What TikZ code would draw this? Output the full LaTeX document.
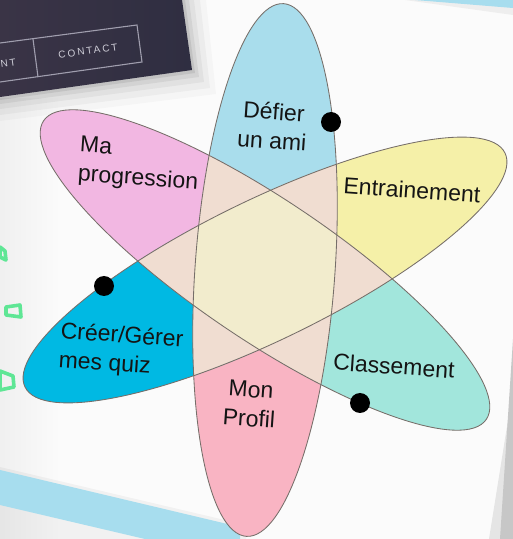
\documentclass[tikz,border=0pt]{standalone}
\usepackage{fontspec}
\setmainfont{Liberation Sans}
\newfontfamily\cardfont[LetterSpace=20]{Liberation Sans}
\definecolor{pagebg}{HTML}{FBFBFB}
\definecolor{cardc}{HTML}{2F2E41}
\definecolor{cardtl}{HTML}{3A3446}
\definecolor{cardline}{HTML}{A09EAE}
\definecolor{cardtext}{HTML}{CFCED8}
\definecolor{barblue}{HTML}{A7DDEE}
\definecolor{mint}{HTML}{5FE695}
\definecolor{defier}{HTML}{A9DDEC}
\definecolor{profil}{HTML}{F9B4C3}
\definecolor{progression}{HTML}{F2B7E2}
\definecolor{classement}{HTML}{A2E6DC}
\definecolor{entrain}{HTML}{F5F0A8}
\definecolor{creer}{HTML}{00B9E3}
\definecolor{peach}{HTML}{F0DDD1}
\definecolor{centre}{HTML}{F2ECCD}
\definecolor{outl}{HTML}{766E69}
\begin{document}
\begin{tikzpicture}[x=1pt,y=1pt,
  eA/.style={shift={(265,269)},rotate=86},
  eB/.style={shift={(265,269)},rotate=-34},
  eC/.style={shift={(265,269)},rotate=26},
  outline/.style={draw=outl,line width=0.85pt},
  lbl/.style={font=\fontsize{23}{29}\selectfont,text=black!92,inner sep=0pt,rotate=-4},
  dot/.style={circle,fill=black,minimum size=20pt,inner sep=0pt},
  cardtxt/.style={font=\cardfont\fontsize{10}{11}\selectfont,text=cardtext,inner sep=0pt,rotate=8},
  greenmark/.style={draw=mint,line width=3.6pt,line join=round}]
\useasboundingbox (0,0) rectangle (513,539);
% page
\fill[pagebg] (0,0) rectangle (513,539);
\shade[left color=black!6,right color=pagebg] (0,0) rectangle (60,440);
% right edge grey
\fill[black!10] (513,150) -- (513,0) -- (489,0) -- cycle;
\fill[black!22] (513,200) -- (513,0) -- (500,0) -- cycle;
% top-right blue strip
\fill[black,opacity=0.05] (405,539) -- (513,539) -- (513,524) -- cycle;
\fill[barblue] (415,539) -- (513,539) -- (513,531) -- cycle;
% bottom-left blue bar
\fill[black,opacity=0.04] (0,72) -- (246,14) -- (246,0) -- (0,0) -- cycle;
\fill[barblue] (0,69) -- (240,12) -- (240,0) -- (145,0) -- (0,34) -- cycle;
% card shadow
\foreach \o/\op in {24/0.025,18/0.035,12/0.045,7/0.06,3/0.08}
  \fill[black,opacity=\op] (0,539) -- (182+\o,539) -- (192+\o,469-\o) -- (0,442-\o) -- cycle;
% card
\shade[left color=cardtl,right color=cardc] (0,539) -- (182,539) -- (192,469) -- (0,442) -- cycle;
\draw[cardline,line width=1.1pt] (0,496) -- (137,514) -- (142,477) -- (0,457);
\draw[cardline,line width=1.1pt] (33,500) -- (38,462);
\node[cardtxt] (contact) at (88,488) {CONTACT};
\node[cardtxt,anchor=east] (nt) at (16,477) {NT};
% green marks
\draw[greenmark] (0,292) -- (5,288) -- (6,279) -- (0,282) -- cycle;
\draw[greenmark] (6,232) -- (20,234) -- (21,222) -- (6,224) -- cycle;
\draw[greenmark] (0,168) -- (13,163) -- (14,152) -- (0,149) -- cycle;
% petals
\foreach \st/\ca/\cb in {eA/defier/profil,eB/classement/progression,eC/entrain/creer}{
  \begin{scope}[\st]
    \clip (0,0) ellipse (267 and 70);
    \fill[\ca] (0,-80) rectangle (280,80);
    \fill[\cb] (-280,-80) rectangle (0,80);
  \end{scope}}
% pairwise overlaps
\begin{scope}\clip[eA] (0,0) ellipse (267 and 70); \fill[peach,eB] (0,0) ellipse (267 and 70);\end{scope}
\begin{scope}\clip[eA] (0,0) ellipse (267 and 70); \fill[peach,eC] (0,0) ellipse (267 and 70);\end{scope}
\begin{scope}\clip[eB] (0,0) ellipse (267 and 70); \fill[peach,eC] (0,0) ellipse (267 and 70);\end{scope}
% centre
\begin{scope}
  \clip[eA] (0,0) ellipse (267 and 70);
  \clip[eB] (0,0) ellipse (267 and 70);
  \fill[centre,eC] (0,0) ellipse (267 and 70);
\end{scope}
% outlines
\draw[outline,eA] (0,0) ellipse (267 and 70);
\draw[outline,eB] (0,0) ellipse (267 and 70);
\draw[outline,eC] (0,0) ellipse (267 and 70);
% dots
\node[dot] (d1) at (331,417) {};
\node[dot] (d2) at (104,253) {};
\node[dot] (d3) at (360,136) {};
% labels
\node[lbl,align=center] (defier) at (273,413) {Défier\\un ami};
\node[lbl,align=left] (prog) at (139,374) {Ma\\progression};
\node[lbl] (entr) at (412,349) {Entrainement};
\node[lbl,align=left] (creer) at (121,188) {Créer/Gérer\\mes quiz};
\node[lbl] (class) at (394,173) {Classement};
\node[lbl,align=center] (profil) at (250,135) {Mon\\Profil};
\end{tikzpicture}
\end{document}
